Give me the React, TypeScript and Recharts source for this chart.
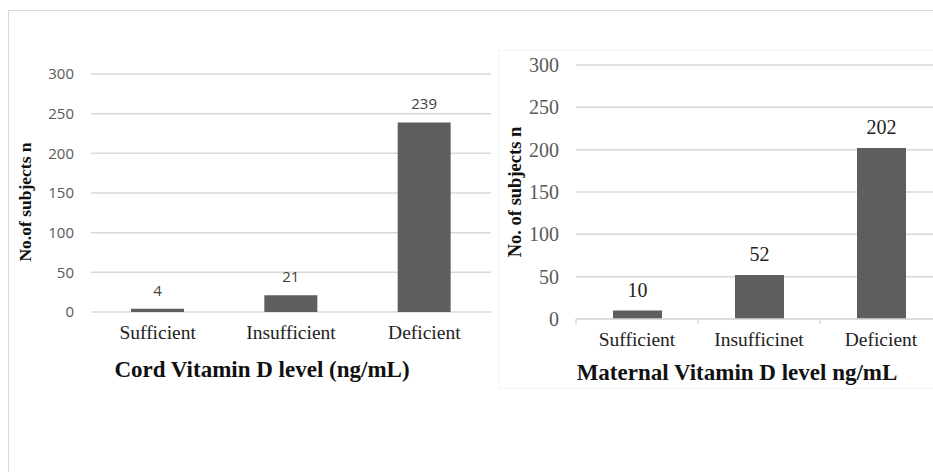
import React from "react";
import { BarChart, Bar, XAxis, YAxis, CartesianGrid, LabelList } from "recharts";

const cordCategories = ["Sufficient", "Insufficient", "Deficient"];
const cordValues = [4, 21, 239];
const maternalCategories = ["Sufficient", "Insufficinet", "Deficient"];
const maternalValues = [10, 52, 202];
const yTicks = [0, 50, 100, 150, 200, 250, 300];

const cordData = cordCategories.map((c, i) => ({ name: c, value: cordValues[i] }));
const maternalData = maternalCategories.map((c, i) => ({ name: c, value: maternalValues[i] }));

const SANS = "'Open Sans', 'Noto Sans', sans-serif";
const SERIF = "'Liberation Serif', 'DejaVu Serif', serif";

const TICK_MARGIN = 13;
const EDGE_LEN = 5;

// Category tick that also draws tick marks at the category boundaries
const BoundaryTick = (props: any) => {
  const { x, y, payload, width, visibleTicksCount, index, fontSize, fontFamily, fill } = props;
  const band = Number(width) / visibleTicksCount;
  const axisY = y - TICK_MARGIN;
  const left = x - band / 2;
  const right = x + band / 2;
  return (
    <g>
      <line x1={left} x2={left} y1={axisY} y2={axisY + EDGE_LEN} stroke="#d9d9d9" strokeWidth={1.5} />
      {index === visibleTicksCount - 1 && (
        <line x1={right} x2={right} y1={axisY} y2={axisY + EDGE_LEN} stroke="#d9d9d9" strokeWidth={1.5} />
      )}
      <text x={x} y={y} dy="0.71em" textAnchor="middle" fontSize={fontSize} fontFamily={fontFamily} fill={fill}>
        {payload.value}
      </text>
    </g>
  );
};

export default function App() {
  return (
    <div style={{ position: "absolute", left: 0, top: 0, width: 933, height: 472, overflow: "hidden", background: "#fff" }}>
      <div style={{ position: "absolute", left: 8, top: 10, width: 1000, height: 600, borderTop: "1px solid #d9d9d9", borderLeft: "1px solid #d9d9d9" }} />

      {/* Left chart */}
      <div style={{ position: "absolute", left: 0, top: 0 }}>
        <BarChart width={500} height={400} data={cordData} margin={{ top: 74, right: 9, left: 0, bottom: 58 }} barCategoryGap="30%">
          <CartesianGrid horizontal vertical={false} stroke="#d9d9d9" strokeWidth={1.5} />
          <XAxis dataKey="name" axisLine={false} tickLine={false} tickSize={0} tickMargin={TICK_MARGIN} height={30} interval={0}
            tick={{ fill: "#222", fontSize: 19.5, fontFamily: SERIF }} />
          <YAxis domain={[0, 300]} ticks={yTicks} width={91} axisLine={false} tickLine={false} tickSize={0} tickMargin={17}
            tick={{ fill: "#595959", fontSize: 15, fontFamily: SANS }} interval={0} />
          <Bar dataKey="value" fill="#5e5e5e" barSize={53} isAnimationActive={false}>
            <LabelList dataKey="value" position="top" offset={13} fill="#404040" fontSize={15} fontFamily={SANS} />
          </Bar>
        </BarChart>
        <div style={{ position: "absolute", left: 25, top: 202, transform: "translate(-50%, -50%) rotate(-90deg)", whiteSpace: "nowrap", fontFamily: SERIF, fontWeight: "bold", fontSize: 17.5, color: "#111" }}>
          No.of subjects n
        </div>
        <div style={{ position: "absolute", left: 262, top: 370, transform: "translate(-50%, -50%)", whiteSpace: "nowrap", fontFamily: SERIF, fontWeight: "bold", fontSize: 23, color: "#111" }}>
          Cord Vitamin D level (ng/mL)
        </div>
      </div>

      {/* Right chart */}
      <div style={{ position: "absolute", left: 498, top: 50, width: 500, height: 337, background: "#fff", border: "1px solid #f4f4f4" }} />
      <div style={{ position: "absolute", left: 500, top: 0 }}>
        <BarChart width={450} height={400} data={maternalData} margin={{ top: 65, right: 8, left: 0, bottom: 51 }} barCategoryGap="30%">
          <CartesianGrid horizontal vertical={false} stroke="#d9d9d9" strokeWidth={1.5} />
          <XAxis dataKey="name" axisLine={{ stroke: "#d9d9d9", strokeWidth: 1.5 }} tickLine={false} tickSize={0} tickMargin={TICK_MARGIN} height={30} interval={0}
            tick={<BoundaryTick fill="#222" fontSize={19.5} fontFamily={SERIF} />} />
          <YAxis domain={[0, 300]} ticks={yTicks} width={76} axisLine={false} tickLine={false} tickSize={0} tickMargin={17}
            tick={{ fill: "#595959", fontSize: 20, fontFamily: SERIF }} interval={0} />
          <Bar dataKey="value" fill="#5e5e5e" barSize={49} isAnimationActive={false}>
            <LabelList dataKey="value" position="top" offset={14} fill="#222" fontSize={20} fontFamily={SERIF} />
          </Bar>
        </BarChart>
        <div style={{ position: "absolute", left: 15, top: 192, transform: "translate(-50%, -50%) rotate(-90deg)", whiteSpace: "nowrap", fontFamily: SERIF, fontWeight: "bold", fontSize: 18.5, color: "#111" }}>
          No. of subjects n
        </div>
        <div style={{ position: "absolute", left: 237, top: 373, transform: "translate(-50%, -50%)", whiteSpace: "nowrap", fontFamily: SERIF, fontWeight: "bold", fontSize: 23, color: "#111" }}>
          Maternal Vitamin D level ng/mL
        </div>
      </div>
    </div>
  );
}
